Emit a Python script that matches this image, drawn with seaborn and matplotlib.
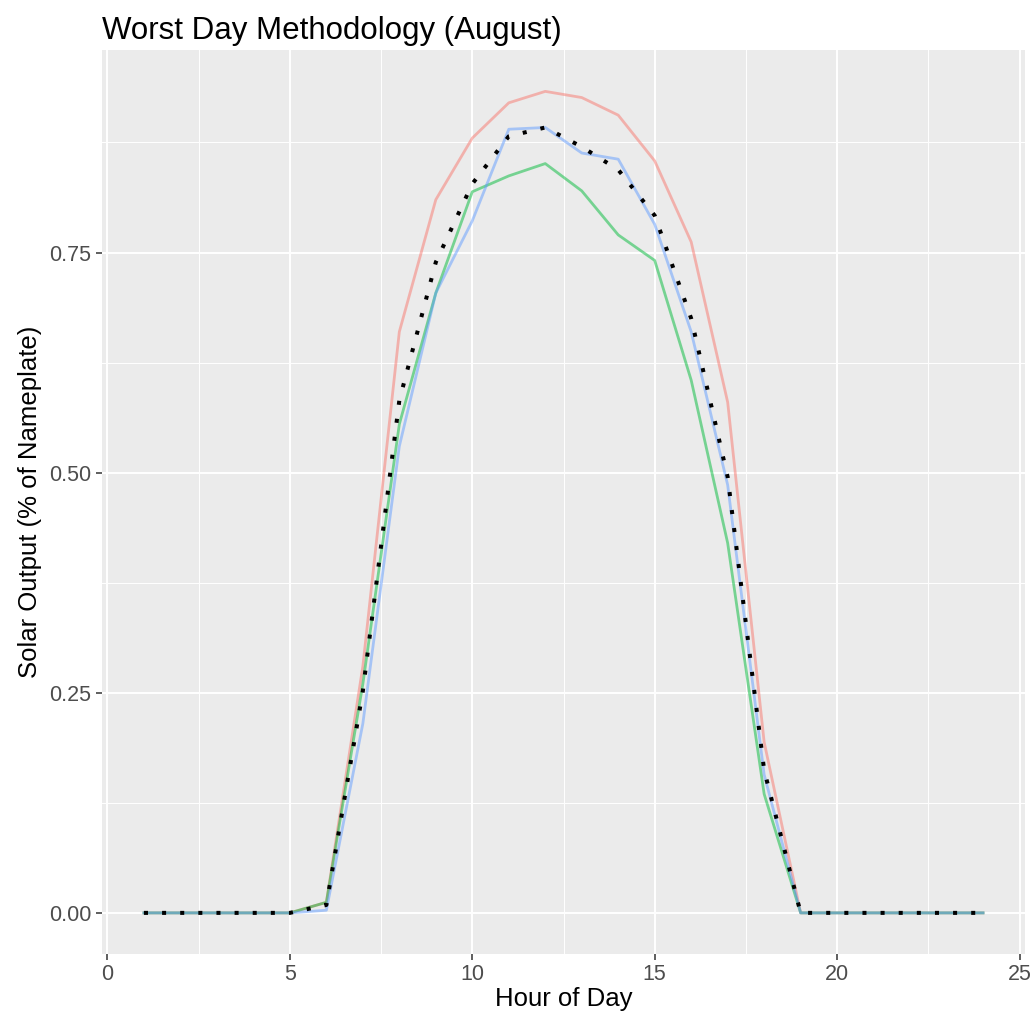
import numpy as np
import pandas as pd
import seaborn as sns
import matplotlib.pyplot as plt

# -----------------------------
# Data
# -----------------------------
hours = list(range(1, 25))

red_vals = [0, 0, 0, 0, 0, 0.012, 0.28, 0.66, 0.81, 0.88, 0.92, 0.933,
            0.926, 0.906, 0.854, 0.762, 0.58, 0.194, 0, 0, 0, 0, 0, 0]
green_vals = [0, 0, 0, 0, 0, 0.012, 0.26, 0.555, 0.704, 0.819, 0.837, 0.851,
              0.82, 0.77, 0.741, 0.605, 0.42, 0.135, 0, 0, 0, 0, 0, 0]
blue_vals = [0, 0, 0, 0, 0, 0.003, 0.215, 0.53, 0.704, 0.786, 0.89, 0.892,
             0.863, 0.856, 0.782, 0.66, 0.486, 0.157, 0, 0, 0, 0, 0, 0]
worst_vals = [0, 0, 0, 0, 0, 0.009, 0.252, 0.582, 0.739, 0.828, 0.882, 0.892,
              0.87, 0.844, 0.792, 0.675, 0.495, 0.162, 0, 0, 0, 0, 0, 0]

series_names = ['A', 'B', 'C']
series_colors = ['#F8766D', '#00BA38', '#619CFF']

x_ticks = [0, 5, 10, 15, 20, 25]
y_ticks = [0, 0.25, 0.5, 0.75]
y_tick_labels = ['0.00', '0.25', '0.50', '0.75']

# long-form table for seaborn
df = pd.DataFrame({
    'HOUR': hours * 3,
    'OUTPUT': red_vals + green_vals + blue_vals,
    'SERIES': [n for n in series_names for _ in hours],
})
worst_df = pd.DataFrame({'HOUR': hours, 'OUTPUT': worst_vals})

# -----------------------------
# Plot (ggplot-like theme)
# -----------------------------
plt.rcParams['font.family'] = ['Liberation Sans', 'DejaVu Sans']

fig = plt.figure(figsize=(10.33, 10.17), dpi=100)
# panel: left 102px, right 1025px, top 50px, bottom 954px
ax = fig.add_axes([102 / 1033, 63 / 1017, 923 / 1033, 904 / 1017])
ax.set_facecolor('#EBEBEB')

sns.lineplot(data=df, x='HOUR', y='OUTPUT', hue='SERIES',
             palette=dict(zip(series_names, series_colors)),
             alpha=0.5, linewidth=2, legend=False, ax=ax)
sns.lineplot(data=worst_df, x='HOUR', y='OUTPUT', color='black',
             linewidth=2.9, linestyle=(0, (1, 3.5)), legend=False, ax=ax)

ax.set_xlim(-0.15, 25.15)
ax.set_ylim(-0.0467, 0.98)
ax.set_xticks(x_ticks)
ax.set_xticklabels([str(t) for t in x_ticks])
ax.set_yticks(y_ticks)
ax.set_yticklabels(y_tick_labels)
ax.set_xticks(np.arange(2.5, 25, 5), minor=True)
ax.set_yticks([0.125, 0.375, 0.625, 0.875], minor=True)

ax.grid(which='major', color='white', linewidth=1.4)
ax.grid(which='minor', color='white', linewidth=0.7)
ax.set_axisbelow(True)
for s in ax.spines.values():
    s.set_visible(False)

ax.tick_params(which='major', length=4.5, width=1.1, color='#333333',
               labelsize=15.5, labelcolor='#4D4D4D', pad=3)
ax.tick_params(which='minor', length=0)

ax.set_xlabel('Hour of Day', fontsize=18.5, labelpad=1)
ax.set_ylabel('Solar Output (% of Nameplate)', fontsize=18.5, labelpad=5)
ax.set_title('Worst Day Methodology (August)', fontsize=22.5, loc='left',
             x=0, pad=8)

plt.savefig('out.png', dpi=100, facecolor='white')
